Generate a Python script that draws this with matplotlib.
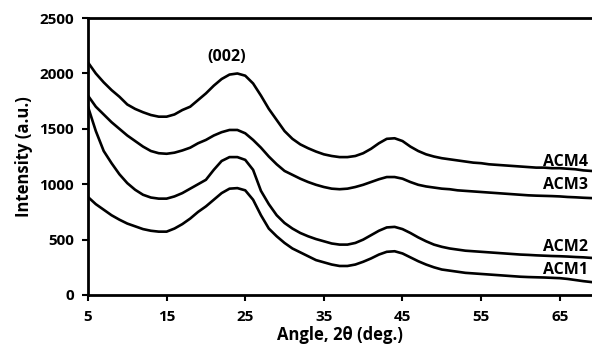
# XRD patterns of ACM1-ACM4
import numpy as np
import matplotlib
matplotlib.use("Agg")
import matplotlib.pyplot as plt

plt.rcParams['font.family'] = ['Open Sans', 'DejaVu Sans']
plt.rcParams['font.weight'] = 'bold'

angle = np.arange(5, 70, 1)

acm4 = [2100, 2000, 1920, 1850, 1790, 1720, 1680, 1650, 1625, 1610,
        1610, 1630, 1670, 1700, 1760, 1820, 1890, 1950, 1990, 2000,
        1980, 1910, 1800, 1680, 1580, 1480, 1410, 1360, 1325, 1295,
        1270, 1255, 1245, 1245, 1255, 1280, 1320, 1370, 1410, 1415,
        1390, 1340, 1300, 1270, 1250, 1235, 1225, 1215, 1205, 1195,
        1190, 1180, 1175, 1170, 1165, 1160, 1155, 1150, 1150, 1145,
        1145, 1140, 1135, 1125, 1120]

acm3 = [1800, 1700, 1630, 1560, 1500, 1440, 1390, 1340, 1300, 1280,
        1275, 1285, 1305, 1330, 1370, 1400, 1440, 1470, 1490, 1490,
        1460, 1400, 1330, 1250, 1180, 1120, 1085, 1050, 1020, 995,
        975, 960, 955, 960, 975, 995, 1020, 1045, 1065, 1065,
        1050, 1020, 995, 980, 970, 960, 955, 945, 940, 935,
        930, 925, 920, 915, 910, 905, 900, 897, 895, 893,
        890, 885, 882, 878, 875]

acm2 = [1700, 1480, 1300, 1190, 1090, 1010, 950, 905, 880, 870,
        870, 890, 920, 960, 1000, 1040, 1130, 1210, 1245, 1245,
        1220, 1130, 940, 820, 720, 650, 600, 560, 530, 505,
        485, 465, 455, 455, 470, 500, 540, 580, 610, 615,
        595, 560, 520, 485, 455, 435, 420, 410, 400, 395,
        390, 385, 380, 375, 370, 365, 362, 358, 355, 352,
        350, 347, 343, 340, 335]

acm1 = [885, 820, 770, 720, 680, 645, 620, 595, 580, 572,
        572, 600, 640, 690, 750, 800, 860, 920, 960, 965,
        945, 860, 720, 600, 530, 470, 420, 385, 350, 315,
        295, 275, 262, 262, 275, 300, 330, 365, 390, 395,
        375, 340, 305, 275, 250, 230, 220, 210, 200, 195,
        190, 185, 180, 175, 170, 165, 162, 160, 158, 155,
        152, 145, 135, 125, 117]

names = ['ACM4', 'ACM3', 'ACM2', 'ACM1']
series = [acm4, acm3, acm2, acm1]
label_y = [1200, 993, 433, 226]

fig = plt.figure(figsize=(5.92, 3.48), dpi=100)
ax = fig.add_axes([0.1486, 0.1523, 0.8514, 0.7957])

for name, vals, ly in zip(names, series, label_y):
    ax.plot(angle, vals, color='black', linewidth=1.9)
    ax.text(68.6, ly, name, ha='right', va='center', fontsize=11.5, fontweight='bold')

ax.text(22.7, 2150, '(002)', ha='center', va='center', fontsize=11.5, fontweight='bold')

ax.set_xlim(5, 69.1)
ax.set_ylim(0, 2500)
ax.set_xticks(range(5, 70, 10))
ax.set_yticks(range(0, 2501, 500))
ax.tick_params(direction='out', length=4, width=1.5, labelsize=11)
ax.tick_params(axis='y', pad=6)
ax.tick_params(axis='x', pad=7)
for lab in ax.get_xticklabels() + ax.get_yticklabels():
    lab.set_fontweight('bold')

ax.spines['right'].set_visible(False)
for s in ['left', 'bottom', 'top']:
    ax.spines[s].set_linewidth(2)

ax.set_xlabel('Angle, 2θ (deg.)', fontsize=12, fontweight='bold', labelpad=1)
ax.set_ylabel('Intensity (a.u.)', fontsize=12, fontweight='bold', labelpad=5)

fig.savefig('out.png', dpi=100)
